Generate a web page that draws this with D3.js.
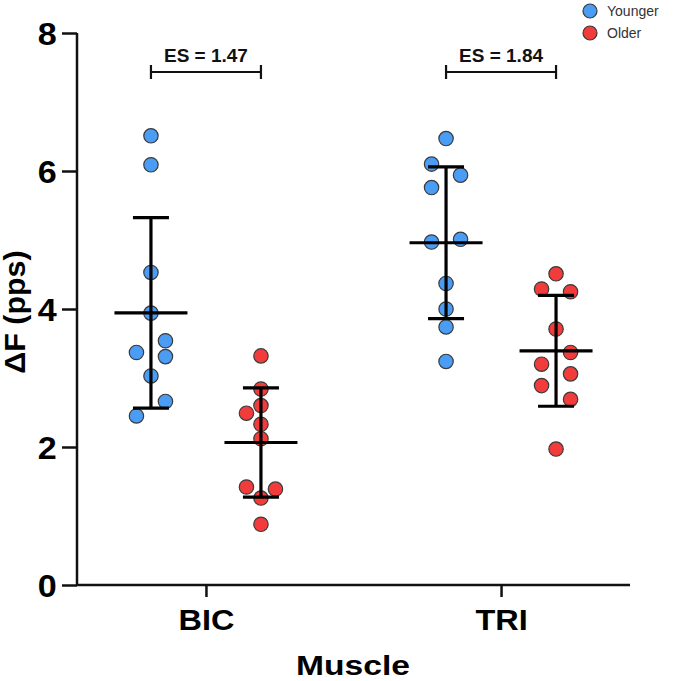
<!DOCTYPE html>
<html><head><meta charset="utf-8">
<script src="https://cdn.jsdelivr.net/npm/d3@7"></script>
<style>
html,body{margin:0;padding:0;background:#fff;}
svg{display:block;font-family:"Liberation Sans",Arial,Helvetica,sans-serif;}
</style></head>
<body><svg id="chart" width="675" height="681"></svg>
<script>
const categories = ["BIC", "TRI"];
const groups = ["Younger", "Older"];
const groupColors = ["#4a9cf4", "#f23c3c"];
const yTicks = [0, 2, 4, 6, 8];
const effectSizes = ["ES = 1.47", "ES = 1.84"];

// Values; lane = horizontal column of each dot (-1, 0, 1)
const youngerBIC = [6.51, 6.09, 4.53, 3.94, 3.54, 3.37, 3.31, 3.03, 2.66, 2.45];
const youngerBICLane = [0, 0, 0, 0, 1, -1, 1, 0, 1, -1];
const olderBIC = [3.32, 2.84, 2.60, 2.49, 2.33, 2.12, 1.42, 1.39, 1.26, 0.88];
const olderBICLane = [0, 0, 0, -1, 0, 0, -1, 1, 0, 0];
const youngerTRI = [6.47, 6.10, 5.94, 5.76, 5.01, 4.97, 4.37, 4.00, 3.74, 3.24];
const youngerTRILane = [0, -1, 1, -1, 1, -1, 0, 0, 0, 0];
const olderTRI = [4.51, 4.29, 4.25, 3.71, 3.37, 3.20, 3.06, 2.89, 2.69, 1.97];
const olderTRILane = [0, -1, 1, 0, 1, -1, 1, -1, 1, 0];

const series = [
  {cat: "BIC", group: "Younger", values: youngerBIC, lanes: youngerBICLane},
  {cat: "BIC", group: "Older", values: olderBIC, lanes: olderBICLane},
  {cat: "TRI", group: "Younger", values: youngerTRI, lanes: youngerTRILane},
  {cat: "TRI", group: "Older", values: olderTRI, lanes: olderTRILane}
];

const svg = d3.select("#chart");
const axisLeft = 77, axisRight = 630, axisBottom = 585, axisTop = 33;

const y = d3.scaleLinear().domain([0, 8]).range([axisBottom, axisTop]);
const x0 = d3.scalePoint().domain(categories).range([axisLeft, axisRight]).padding(0.437);
const x1 = d3.scalePoint().domain(groups).range([-55, 55]);
const color = d3.scaleOrdinal().domain(groups).range(groupColors);
const laneStep = 14.5;
const xPos = (c, g) => x0(c) + x1(g);

// Y axis
const yAxis = svg.append("g")
  .attr("transform", `translate(${axisLeft},0)`)
  .call(d3.axisLeft(y).tickValues(yTicks).tickSize(15).tickPadding(3).tickFormat(d3.format("d")));
yAxis.select(".domain").attr("stroke", "#111").attr("stroke-width", 2.5).attr("d", `M0,${axisTop}V${axisBottom}`);
yAxis.selectAll(".tick line").attr("stroke", "#111").attr("stroke-width", 2.5);
yAxis.selectAll(".tick text").attr("fill", "#000").attr("font-size", 31).attr("font-weight", "bold")
  .attr("font-family", "'Liberation Sans',Arial,sans-serif").attr("dy", "0.36em")
  .attr("transform", "translate(-18,0) scale(1.1,1) translate(16,0)");

// X axis
const xAxis = svg.append("g")
  .attr("transform", `translate(0,${axisBottom})`)
  .call(d3.axisBottom(x0).tickSize(12).tickPadding(12));
xAxis.select(".domain").attr("stroke", "#111").attr("stroke-width", 2.5).attr("d", `M${axisLeft},0H${axisRight}`);
xAxis.selectAll(".tick line").attr("stroke", "#111").attr("stroke-width", 2.5);
xAxis.selectAll(".tick text").attr("fill", "#000").attr("font-size", 29).attr("font-weight", "bold")
  .attr("font-family", "'Liberation Sans',Arial,sans-serif")
  .attr("transform", "scale(1.12,1)");

// Axis titles
svg.append("text")
  .attr("transform", `translate(353,675) scale(1.2,1)`)
  .attr("text-anchor", "middle").attr("font-size", 28).attr("font-weight", "bold").text("Muscle");
svg.append("text")
  .attr("transform", `translate(25,${y(4) + 3}) rotate(-90) scale(1.05,1)`)
  .attr("text-anchor", "middle").attr("font-size", 29).attr("font-weight", "bold").text("ΔF (pps)");

// Dots
series.forEach(s => {
  const cx = xPos(s.cat, s.group);
  svg.append("g").selectAll("circle").data(s.values).join("circle")
    .attr("cx", (d, i) => cx + s.lanes[i] * laneStep)
    .attr("cy", d => y(d))
    .attr("r", 7.2)
    .attr("fill", color(s.group))
    .attr("stroke", "#3a3a3a").attr("stroke-width", 1.2);
});

// Mean ± SD
series.forEach(s => {
  const cx = xPos(s.cat, s.group);
  const m = d3.mean(s.values), sd = d3.deviation(s.values);
  const g = svg.append("g").attr("stroke", "#000").attr("stroke-width", 3.2).attr("fill", "none");
  g.append("line").attr("x1", cx).attr("x2", cx).attr("y1", y(m + sd)).attr("y2", y(m - sd));
  g.append("line").attr("x1", cx - 18).attr("x2", cx + 18).attr("y1", y(m + sd)).attr("y2", y(m + sd));
  g.append("line").attr("x1", cx - 18).attr("x2", cx + 18).attr("y1", y(m - sd)).attr("y2", y(m - sd));
  g.append("line").attr("x1", cx - 36.5).attr("x2", cx + 36.5).attr("y1", y(m)).attr("y2", y(m));
});

// Effect size brackets
categories.forEach((c, i) => {
  const xa = xPos(c, "Younger"), xb = xPos(c, "Older");
  const by = 72;
  const g = svg.append("g").attr("stroke", "#111").attr("stroke-width", 2.2);
  g.append("line").attr("x1", xa).attr("x2", xb).attr("y1", by).attr("y2", by);
  g.append("line").attr("x1", xa).attr("x2", xa).attr("y1", by - 7).attr("y2", by + 7);
  g.append("line").attr("x1", xb).attr("x2", xb).attr("y1", by - 7).attr("y2", by + 7);
  svg.append("text").attr("x", (xa + xb) / 2).attr("y", 62)
    .attr("text-anchor", "middle").attr("font-size", 19).attr("font-weight", "bold")
    .attr("fill", "#111").text(effectSizes[i]);
});

// Legend
const legend = svg.append("g").attr("transform", "translate(590,11)");
groups.forEach((g, i) => {
  const row = legend.append("g").attr("transform", `translate(0,${i * 22})`);
  row.append("circle").attr("r", 7).attr("fill", color(g)).attr("stroke", "#3a3a3a").attr("stroke-width", 1.2);
  row.append("text").attr("x", 17).attr("y", 5).attr("font-size", 14).attr("fill", "#333")
    .attr("font-family", "'Liberation Sans',Arial,sans-serif").text(g);
});
</script></body></html>
